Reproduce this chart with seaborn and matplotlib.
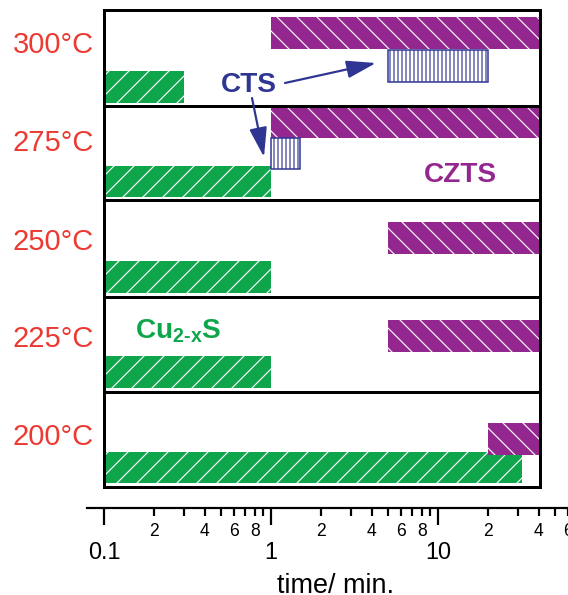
import numpy as np
import matplotlib
matplotlib.use("Agg")
import matplotlib.pyplot as plt
import seaborn as sns
from matplotlib.ticker import FixedLocator, FuncFormatter, NullLocator
from matplotlib.patches import FancyArrowPatch

# ---------------- data ----------------
temperatures = ["300°C", "275°C", "250°C", "225°C", "200°C"]
cu2s_start = [0.1, 0.1, 0.1, 0.1, 0.1]
cu2s_end = [0.3, 1.0, 1.0, 1.0, 32.0]
czts_start = [1.0, 1.0, 5.0, 5.0, 20.0]
czts_end = [40.0, 40.0, 40.0, 40.0, 40.0]
cts_temps = ["300°C", "275°C"]
cts_start = [5.0, 1.0]
cts_end = [20.0, 1.5]
major_ticks = [0.1, 1, 10, 100]
major_labels = ["0.1", "1", "10", "100"]
minor_label_digits = [2, 4, 6, 8]

# ---------------- layout / style ----------------
DPI = 120
W, H = 568, 595
def pt(v):
    return v * 72.0 / DPI
def fx(x):
    return x / W
def fy(y):
    return 1 - y / H

sns.set_style("white")
plt.rcParams["font.family"] = ["Liberation Sans", "DejaVu Sans"]
plt.rcParams["mathtext.fontset"] = "custom"
plt.rcParams["mathtext.rm"] = "Liberation Sans:bold"
plt.rcParams["mathtext.bf"] = "Liberation Sans:bold"
plt.rcParams["hatch.linewidth"] = 0.7

RED = "#ec3a33"
GREEN = "#0fa64b"
PURPLE = "#93278f"
BLUE = "#2e3592"

panel_bounds = [10, 106, 200, 297, 392, 487]
purple_lane = [0.76, 0.82, 0.613, 0.59, 0.505]
green_lane = [0.198, 0.197, 0.206, 0.21, 0.205]
blue_lane = {"300°C": 0.417, "275°C": 0.49}
label_frac = [0.55, 0.52, 0.485, 0.47, 0.44]
bar_h = 0.33
XMIN, XMAX = 0.1, 40.8

fig = plt.figure(figsize=(W / DPI, H / DPI), dpi=DPI)

for i, temp in enumerate(temperatures):
    top, bot = panel_bounds[i], panel_bounds[i + 1]
    ax = fig.add_axes([fx(104), fy(bot), fx(540) - fx(104), (bot - top) / H])
    ax.set_xscale("log")
    ax.set_xlim(XMIN, XMAX)
    ax.set_ylim(0, 1)
    ax.xaxis.set_major_locator(NullLocator())
    ax.xaxis.set_minor_locator(NullLocator())
    ax.set_yticks([])
    for s in ax.spines.values():
        s.set_visible(True)
        s.set_linewidth(pt(3))
        s.set_color("black")
        s.set_zorder(10)
    # Cu2-xS
    ax.barh(green_lane[i], cu2s_end[i] - cu2s_start[i], left=cu2s_start[i],
            height=bar_h, color=GREEN, edgecolor="white", linewidth=0, hatch="//")
    # CZTS
    ax.barh(purple_lane[i], czts_end[i] - czts_start[i], left=czts_start[i],
            height=bar_h, color=PURPLE, edgecolor="white", linewidth=0, hatch="\\\\")
    # CTS
    for t, s0, s1 in zip(cts_temps, cts_start, cts_end):
        if t == temp:
            ax.barh(blue_lane[t], s1 - s0, left=s0, height=bar_h,
                    facecolor="white", edgecolor=BLUE, linewidth=pt(1.5), hatch="|||||")
    fig.text(fx(94), fy(bot) + label_frac[i] * (bot - top) / H, temp,
             ha="right", va="baseline", color=RED, fontsize=17.5)

# ---------------- annotations ----------------
fig.text(fx(249), fy(92), "CTS", ha="center", va="baseline", color=BLUE,
         fontsize=16.8, fontweight="bold")
fig.text(fx(460), fy(182), "CZTS", ha="center", va="baseline", color=PURPLE,
         fontsize=16.8, fontweight="bold")
fig.text(fx(135), fy(338), r"$\mathbf{Cu}_{\mathbf{2}\text{-}\mathbf{x}}\mathbf{S}$",
         ha="left", va="baseline", color=GREEN, fontsize=16.8)

for (x0, y0), (x1, y1) in [((285, 83), (376, 63)), ((252, 98), (264, 157))]:
    arr = FancyArrowPatch((fx(x0), fy(y0)), (fx(x1), fy(y1)),
                          transform=fig.transFigure,
                          arrowstyle="-|>,head_length=1.5,head_width=0.45",
                          mutation_scale=10, color=BLUE, linewidth=pt(2.2),
                          shrinkA=0, shrinkB=0, zorder=20)
    fig.add_artist(arr)

# ---------------- bottom time axis ----------------
dec_px = (540 - 104) / np.log10(XMAX / XMIN)
left_val = XMIN * 10 ** ((87 - 104) / dec_px)
right_val = XMIN * 10 ** ((610 - 104) / dec_px)
axb = fig.add_axes([fx(87), fy(508), (610 - 87) / W, 0.02])
axb.set_xscale("log")
axb.set_xlim(left_val, right_val)
axb.patch.set_visible(False)
for side in ["top", "left", "right"]:
    axb.spines[side].set_visible(False)
axb.spines["bottom"].set_linewidth(pt(2.2))
axb.spines["bottom"].set_color("black")
axb.set_yticks([])
minor_pos = [k * 10.0 ** d for d in range(-1, 3) for k in range(2, 10)]
minor_pos = [m for m in minor_pos if XMIN < m <= right_val]
axb.xaxis.set_major_locator(FixedLocator(major_ticks))
axb.xaxis.set_major_formatter(FuncFormatter(
    lambda v, p: major_labels[int(np.argmin([abs(np.log10(v) - np.log10(t)) for t in major_ticks]))]))
axb.xaxis.set_minor_locator(FixedLocator(minor_pos))
def minor_fmt(v, p):
    k = int(round(v / 10 ** np.floor(np.log10(v) + 1e-9)))
    return str(k) if k in minor_label_digits else ""
axb.xaxis.set_minor_formatter(FuncFormatter(minor_fmt))
axb.tick_params(axis="x", which="major", direction="out", length=pt(17), width=pt(2.2),
                pad=pt(16), labelsize=pt(23.5), colors="black", bottom=True)
axb.tick_params(axis="x", which="minor", direction="out", length=pt(8), width=pt(2.2),
                pad=pt(7), labelsize=pt(17.5), colors="black", bottom=True)

fig.text(fx(335.5), fy(593), "time/ min.", ha="center", va="baseline",
         fontsize=pt(27), color="black")

fig.savefig("out.png", dpi=DPI)
